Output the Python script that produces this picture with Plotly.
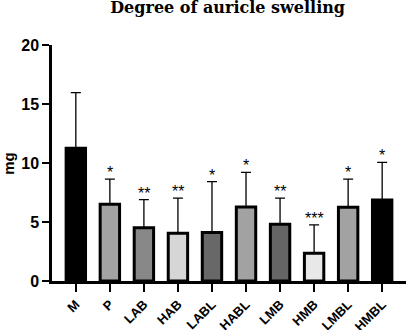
import plotly.graph_objects as go

categories = ["M", "P", "LAB", "HAB", "LABL", "HABL", "LMB", "HMB", "LMBL", "HMBL"]
means = [11.25, 6.5, 4.52, 4.04, 4.12, 6.27, 4.8, 2.35, 6.25, 6.86]
upper = [15.96, 8.64, 6.89, 7.03, 8.42, 9.2, 7.03, 4.75, 8.64, 10.06]
stars = ["", "*", "**", "**", "*", "*", "**", "***", "*", "*"]
colors = ["#000000", "#a2a2a2", "#888888", "#d6d6d6", "#686868",
          "#a2a2a2", "#656565", "#e8e8e8", "#a2a2a2", "#000000"]

err_plus = [u - m for u, m in zip(upper, means)]

fig = go.Figure()
fig.add_trace(go.Bar(
    x=categories, y=means,
    marker=dict(color=colors, line=dict(color="black", width=3)),
    error_y=dict(type="data", symmetric=False, array=err_plus,
                 arrayminus=[0] * len(means), color="black", thickness=1.3, width=5),
))

for c, u, s in zip(categories, upper, stars):
    if s:
        fig.add_annotation(x=c, y=u, text=s, showarrow=False, yanchor="bottom",
                           yshift=-4, font=dict(family="Arial", size=16, color="black"))

# y-axis title placed as rotated text
fig.add_annotation(x=-0.125, y=0.5, xref="paper", yref="paper", text="<b>mg</b>",
                   textangle=-90, showarrow=False, xanchor="center", yanchor="middle",
                   font=dict(family="Arial", size=15, color="black"))

fig.update_layout(
    width=408, height=330,
    margin=dict(l=52, r=2, t=45, b=49),
    paper_bgcolor="white", plot_bgcolor="white",
    bargap=0.43,
    showlegend=False,
    title=dict(text="<b>Degree of auricle swelling</b>", x=0.558, xanchor="center",
               xref="container", y=0.995, yanchor="top", yref="container",
               font=dict(family="DejaVu Serif", size=16, color="black")),
)
fig.update_xaxes(
    type="category", range=[-0.7, 9.7], automargin=False,
    showline=True, linecolor="black", linewidth=2.5,
    ticks="outside", ticklen=8, tickwidth=2, tickcolor="black",
    tickangle=-45, showgrid=False,
    tickfont=dict(family="Arial", size=13, color="black", weight="bold"),
)
fig.update_yaxes(
    range=[0, 20], tickvals=[0, 5, 10, 15, 20], automargin=False,
    showline=True, linecolor="black", linewidth=2.5,
    ticks="outside", ticklen=7, tickwidth=2, tickcolor="black",
    showgrid=False, zeroline=False,
    tickfont=dict(family="Arial", size=16, color="black", weight="bold"),
)

fig.write_html("out.html", config={"displayModeBar": False},
               post_script="document.body.style.margin='0';")
